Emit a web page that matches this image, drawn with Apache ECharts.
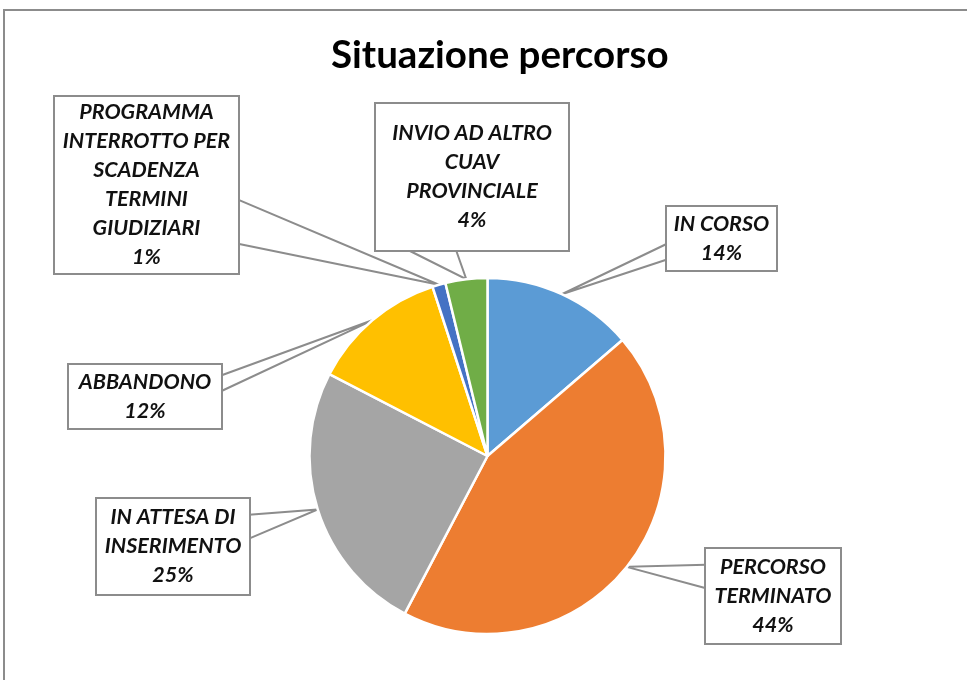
<!DOCTYPE html>
<html>
<head>
<meta charset="utf-8">
<script src="https://cdn.jsdelivr.net/npm/echarts@6/dist/echarts.min.js"></script>
<style>
html,body{margin:0;padding:0;background:#fff;}
#chart{width:967px;height:680px;}
</style>
</head>
<body>
<div id="chart"></div>
<script>
// ---- data ----
const categories = ['IN CORSO', 'PERCORSO TERMINATO', 'IN ATTESA DI INSERIMENTO', 'ABBANDONO', 'PROGRAMMA INTERROTTO PER SCADENZA TERMINI GIUDIZIARI', 'INVIO AD ALTRO CUAV PROVINCIALE'];
const values = [13.7, 44.0, 24.9, 12.4, 1.2, 3.8];
const colors = ['#5B9BD5', '#ED7D31', '#A5A5A5', '#FFC000', '#4472C4', '#70AD47'];
// wrapped label text as in the callout boxes
const labelWraps = ['IN CORSO', 'PERCORSO\nTERMINATO', 'IN ATTESA DI\nINSERIMENTO', 'ABBANDONO', 'PROGRAMMA\nINTERROTTO PER\nSCADENZA\nTERMINI\nGIUDIZIARI', 'INVIO AD ALTRO\nCUAV\nPROVINCIALE'];
// callout box layout (center x, center y, width, height)
const labelBoxes = [
  [721.5, 238.5, 109, 63],
  [773, 596, 134, 94],
  [173, 546.5, 152, 95],
  [145, 396.5, 152, 63],
  [146.5, 185, 183, 176],
  [472, 177, 192, 146]
];
const LH = 29;

const total = values.reduce((a, b) => a + b, 0);

const data = categories.map((c, i) => {
  const nLines = labelWraps[i].split('\n').length + 1;
  const h = labelBoxes[i][3];
  const pv = Math.max(0, (h - nLines * LH) / 2);
  return {
    name: c,
    value: values[i],
    itemStyle: { color: colors[i] },
    label: { width: labelBoxes[i][2], padding: [pv, 0, pv, 0] }
  };
});

const chart = echarts.init(document.getElementById('chart'));
chart.setOption({
  backgroundColor: '#fff',
  animation: false,
  title: {
    text: 'Situazione percorso',
    left: 326,
    top: 31,
    textStyle: { fontFamily: 'Lato', fontWeight: 'bold', fontSize: 38.5, color: '#000' }
  },
  graphic: [{
    type: 'rect',
    shape: { x: 4, y: 10, width: 990, height: 700 },
    style: { fill: 'none', stroke: '#8c8c8c', lineWidth: 2 },
    silent: true
  }],
  series: [{
    type: 'pie',
    center: [487.5, 456],
    radius: 178,
    startAngle: 90,
    clockwise: true,
    avoidLabelOverlap: false,
    itemStyle: { borderColor: '#fff', borderWidth: 2.5 },
    label: {
      show: true,
      position: 'outside',
      formatter: p => labelWraps[p.dataIndex] + '\n' + Math.round(p.value / total * 100) + '%',
      fontFamily: 'Lato',
      fontStyle: 'italic',
      fontWeight: 'bold',
      fontSize: 21.5,
      lineHeight: LH,
      color: '#111',
      align: 'center',
      backgroundColor: '#fff',
      borderColor: '#8c8c8c',
      borderWidth: 2
    },
    labelLine: {
      show: true,
      length: 10,
      length2: 10,
      smooth: false,
      lineStyle: { color: '#8c8c8c', width: 2 }
    },
    labelLayout: function (params) {
      const b = labelBoxes[params.dataIndex];
      const cx = b[0], cy = b[1], w = b[2], h = b[3];
      const tip = params.labelLinePoints ? params.labelLinePoints[0] : [cx, cy];
      const dx = tip[0] - cx, dy = tip[1] - cy;
      const dq = dx * h / w;
      let p1, p2;
      if (Math.abs(dy) > Math.abs(dq)) {
        const ys = dy > 0 ? cy + h / 2 : cy - h / 2;
        const f1 = dx > 0 ? 7 / 12 : 2 / 12, f2 = dx > 0 ? 10 / 12 : 5 / 12;
        p1 = [cx - w / 2 + w * f1, ys];
        p2 = [cx - w / 2 + w * f2, ys];
      } else {
        const xs = dx > 0 ? cx + w / 2 : cx - w / 2;
        const f1 = dy > 0 ? 7 / 12 : 2 / 12, f2 = dy > 0 ? 10 / 12 : 5 / 12;
        p1 = [xs, cy - h / 2 + h * f1];
        p2 = [xs, cy - h / 2 + h * f2];
      }
      return {
        x: cx, y: cy, align: 'center', verticalAlign: 'middle',
        labelLinePoints: [p1, tip, p2]
      };
    },
    data: data
  }]
});
</script>
</body>
</html>
